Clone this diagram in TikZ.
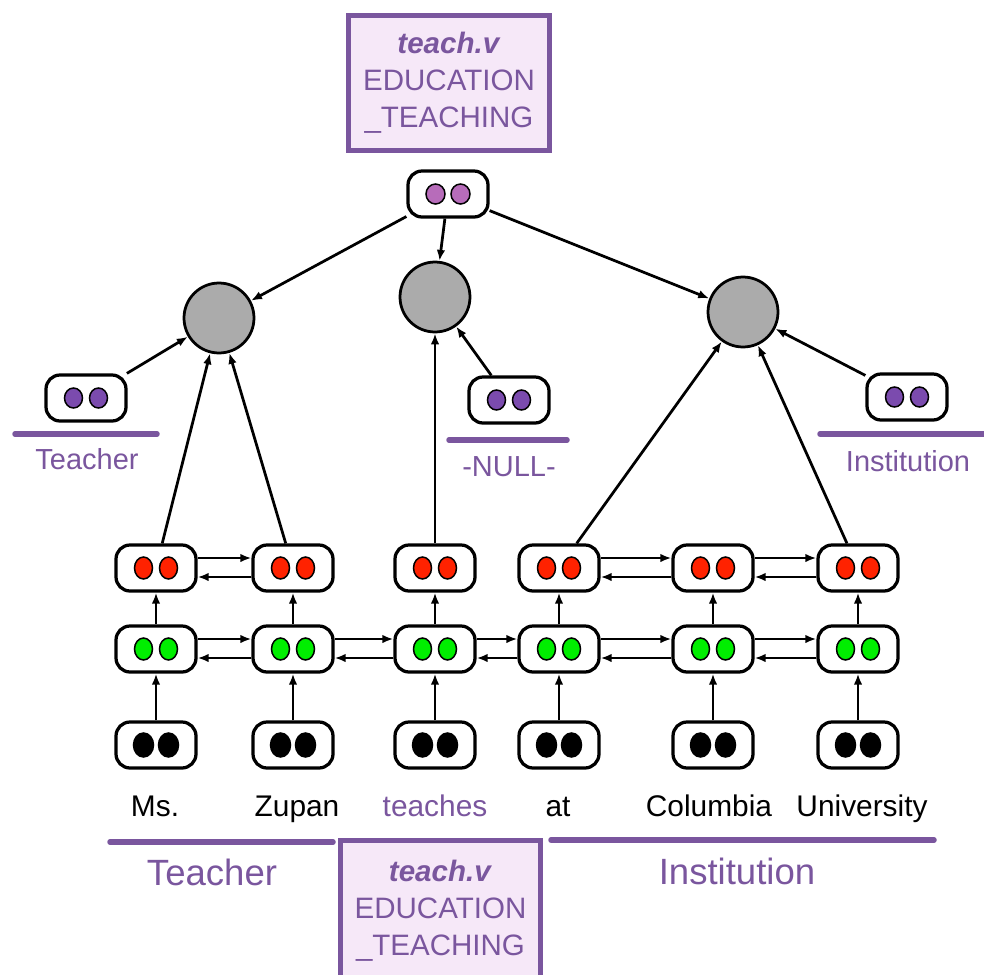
\documentclass[tikz,border=0pt]{standalone}
\usepackage{fontspec}
\setmainfont{Liberation Sans}
\usepackage{xcolor}
\usepackage{tikz}
\usetikzlibrary{shapes,arrows,arrows.meta}
\definecolor{fnviolet}{RGB}{122,86,158}
\definecolor{fnpale}{RGB}{246,232,248}
\definecolor{argviolet}{RGB}{123,75,174}
\definecolor{predpink}{RGB}{183,108,186}
\definecolor{lstmred}{RGB}{255,34,0}
\definecolor{lstmgreen}{RGB}{0,238,0}
\tikzstyle{pill} = [rectangle, rounded corners=0.28cm, draw, line width=0.065cm, fill=white, minimum width=1.6cm, minimum height=0.92cm, inner sep=0pt]
\tikzstyle{role} = [circle, draw, line width=0.055cm, fill=black!33, minimum size=1.4cm, inner sep=0pt]
\tikzstyle{framebox} = [rectangle, draw=fnviolet, line width=0.1cm, fill=fnpale, text=fnviolet, align=center, minimum width=4.02cm, minimum height=2.72cm, font=\fontsize{16.8}{21}\selectfont]
\tikzstyle{word} = [anchor=base, font=\fontsize{17}{20}\selectfont]
\tikzstyle{rolename} = [text=fnviolet, font=\fontsize{16.5}{20}\selectfont]
\tikzstyle{spanname} = [text=fnviolet, font=\fontsize{20.8}{24}\selectfont]
\tikzstyle{bar} = [draw=fnviolet, line width=0.11cm, line cap=round]
\tikzstyle{dotfill} = [draw, line width=0.03cm]
\tikzstyle{line} = [draw, line width=0.055cm, -{Latex[length=0.22cm,width=0.17cm]}]
\newcommand{\pillnode}[5][0.18cm and 0.22cm]{%
  \node [pill] (#2) at (#3,#4) {};
  \draw [dotfill, fill=#5] ([xshift=-0.25cm]#2.center) ellipse (#1);
  \draw [dotfill, fill=#5] ([xshift=0.25cm]#2.center) ellipse (#1);
}
\begin{document}
\begin{tikzpicture}[x=0.02cm, y=-0.02cm]
\useasboundingbox (0,0) rectangle (984,974);

\node [framebox] (fr1) at (449,83) {\textbf{\textit{teach.v}}\\EDUCATION\\\_TEACHING};
\pillnode[0.19cm and 0.2cm]{pred}{448}{194}{predpink}

\node [role] (c1) at (219,318) {};
\node [role] (c2) at (435,297) {};
\node [role] (c3) at (743,312) {};
\path [line] (pred) -- (c1);
\path [line] (pred) -- (c2);
\path [line] (pred) -- (c3);

\pillnode[0.18cm and 0.2cm]{a1}{86}{398}{argviolet}
\pillnode[0.18cm and 0.2cm]{a2}{509}{400}{argviolet}
\pillnode[0.18cm and 0.2cm]{a3}{907}{397}{argviolet}
\path [line] (a1) -- (c1);
\path [line] (a2) -- (c2);
\path [line] (a3) -- (c3);
\path [bar] (15,434) -- (157,434);
\path [bar] (449,440) -- (567,440);
\path [bar] (820,434) -- (990,434);
\node [rolename] (n1) at (87,459) {Teacher};
\node [rolename] (n2) at (509,467) {-NULL-};
\node [rolename] (n3) at (908,461) {Institution};

\pillnode{r1}{156}{568}{lstmred}
\pillnode{r2}{293}{568}{lstmred}
\pillnode{r3}{435}{568}{lstmred}
\pillnode{r4}{559}{568}{lstmred}
\pillnode{r5}{713}{568}{lstmred}
\pillnode{r6}{858}{568}{lstmred}
\pillnode{g1}{156}{649}{lstmgreen}
\pillnode{g2}{293}{649}{lstmgreen}
\pillnode{g3}{435}{649}{lstmgreen}
\pillnode{g4}{559}{649}{lstmgreen}
\pillnode{g5}{713}{649}{lstmgreen}
\pillnode{g6}{858}{649}{lstmgreen}
\pillnode[0.2cm and 0.24cm]{b1}{156}{745}{black}
\pillnode[0.2cm and 0.24cm]{b2}{293}{745}{black}
\pillnode[0.2cm and 0.24cm]{b3}{435}{745}{black}
\pillnode[0.2cm and 0.24cm]{b4}{559}{745}{black}
\pillnode[0.2cm and 0.24cm]{b5}{713}{745}{black}
\pillnode[0.2cm and 0.24cm]{b6}{858}{745}{black}

\path [line] (b1) -- (g1);
\path [line] (b2) -- (g2);
\path [line] (b3) -- (g3);
\path [line] (b4) -- (g4);
\path [line] (b5) -- (g5);
\path [line] (b6) -- (g6);
\path [line] (g1) -- (r1);
\path [line] (g2) -- (r2);
\path [line] (g3) -- (r3);
\path [line] (g4) -- (r4);
\path [line] (g5) -- (r5);
\path [line] (g6) -- (r6);

\path [line] ([yshift=0.2cm]r1.east) -- ([yshift=0.2cm]r2.west);
\path [line] ([yshift=-0.18cm]r2.west) -- ([yshift=-0.18cm]r1.east);
\path [line] ([yshift=0.2cm]r4.east) -- ([yshift=0.2cm]r5.west);
\path [line] ([yshift=-0.18cm]r5.west) -- ([yshift=-0.18cm]r4.east);
\path [line] ([yshift=0.2cm]r5.east) -- ([yshift=0.2cm]r6.west);
\path [line] ([yshift=-0.18cm]r6.west) -- ([yshift=-0.18cm]r5.east);

\path [line] ([yshift=0.2cm]g1.east) -- ([yshift=0.2cm]g2.west);
\path [line] ([yshift=-0.18cm]g2.west) -- ([yshift=-0.18cm]g1.east);
\path [line] ([yshift=0.2cm]g2.east) -- ([yshift=0.2cm]g3.west);
\path [line] ([yshift=-0.18cm]g3.west) -- ([yshift=-0.18cm]g2.east);
\path [line] ([yshift=0.2cm]g3.east) -- ([yshift=0.2cm]g4.west);
\path [line] ([yshift=-0.18cm]g4.west) -- ([yshift=-0.18cm]g3.east);
\path [line] ([yshift=0.2cm]g4.east) -- ([yshift=0.2cm]g5.west);
\path [line] ([yshift=-0.18cm]g5.west) -- ([yshift=-0.18cm]g4.east);
\path [line] ([yshift=0.2cm]g5.east) -- ([yshift=0.2cm]g6.west);
\path [line] ([yshift=-0.18cm]g6.west) -- ([yshift=-0.18cm]g5.east);

\path [line] (r1) -- (c1);
\path [line] (r2) -- (c1);
\path [line] (r3) -- (c2);
\path [line] (r4) -- (c3);
\path [line] (r6) -- (c3);

\node [word] (w1) at (155,816) {Ms.};
\node [word] (w2) at (297,816) {Zupan};
\node [word, text=fnviolet] (w3) at (435,816) {teaches};
\node [word] (w4) at (558,816) {at};
\node [word] (w5) at (709,816) {Columbia};
\node [word] (w6) at (862,816) {University};

\path [bar] (110,842) -- (333,842);
\path [bar] (551,840) -- (934,840);
\node [spanname] (s1) at (212,872) {Teacher};
\node [spanname] (s2) at (737,871) {Institution};
\node [framebox, minimum height=2.84cm] (fr2) at (440.5,911) {\textbf{\textit{teach.v}}\\EDUCATION\\\_TEACHING};
\end{tikzpicture}
\end{document}
